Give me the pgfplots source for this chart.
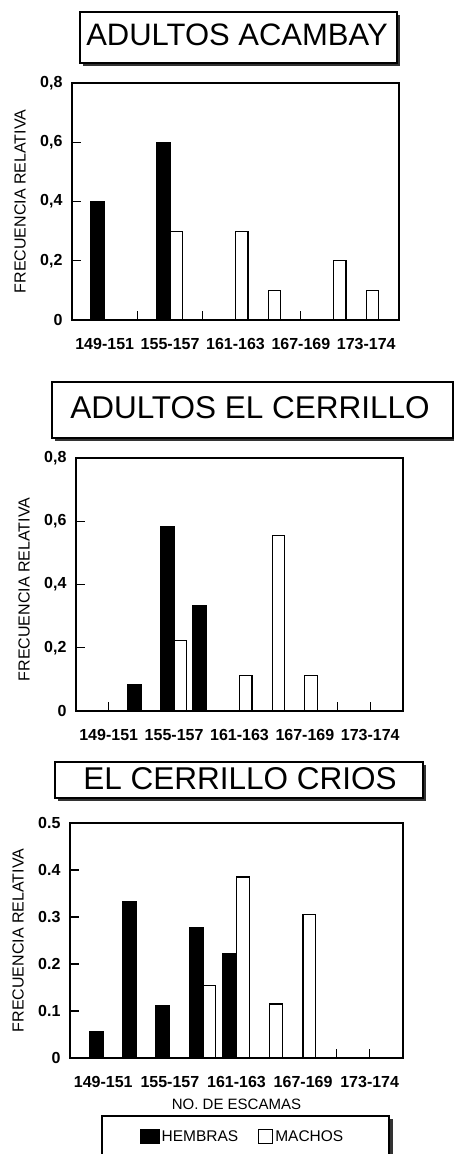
\documentclass[border=0pt]{standalone}
\usepackage{fontspec}
\setmainfont{Liberation Sans}
\usepackage{pgfplots}
\pgfplotsset{compat=1.18}
\begin{document}
\begin{tikzpicture}[x=1pt,y=1pt]
\useasboundingbox (0pt,0pt) rectangle (453pt,1154pt);
\pgfplotsset{
  panel/.style={
    scale only axis, anchor=south west,
    xmin=-1, xmax=9, ymin=0,
    axis line style={line width=1.3pt},
    xtick={0,1,2,3,4,5,6,7,8},
    xticklabels={149-151,,155-157,,161-163,,167-169,,173-174},
    xtick pos=lower, ytick pos=left,
    tick align=inside,
    major tick length=9pt,
    tick style={line width=1.1pt, black},
    ticklabel style={font=\fontsize{16}{16}\selectfont\bfseries},
    xticklabel style={yshift=-15pt},
    yticklabel style={xshift=-6pt},
    ylabel={FRECUENCIA RELATIVA},
    every axis y label/.style={at={(axis description cs:0,0.5)}, xshift=-52pt,
      rotate=90, anchor=center, font=\fontsize{16}{16}\selectfont},
    /pgf/number format/assume math mode=true,
  },
  hem/.style={ybar, bar width=0.42, bar shift=-0.21, fill=black, draw=black, line width=1.2pt},
  mac/.style={ybar, bar width=0.38, bar shift=0.19, fill=white, draw=black, line width=1.2pt},
}
% title boxes with shadow
\fill[black!80] (83pt,1088pt) rectangle (400pt,1139pt);
\draw[line width=1.2pt, fill=white] (80pt,1091pt) rectangle (397pt,1142pt);
\node[font=\fontsize{31}{31}\selectfont] at (237pt,1119pt) {ADULTOS ACAMBAY};

\fill[black!80] (55pt,713pt) rectangle (456pt,769pt);
\draw[line width=1.2pt, fill=white] (52pt,716pt) rectangle (453pt,772pt);
\node[font=\fontsize{31.5}{31.5}\selectfont] at (250pt,746pt) {ADULTOS EL CERRILLO};

\fill[black!80] (58pt,353pt) rectangle (426pt,389pt);
\draw[line width=1.2pt, fill=white] (55pt,356pt) rectangle (423pt,392pt);
\node[font=\fontsize{31.5}{31.5}\selectfont] at (240pt,375pt) {EL CERRILLO CRIOS};

% legend frame
\fill[black!80] (105pt,-10pt) rectangle (393pt,35pt);
\draw[line width=1.2pt, fill=white] (102pt,-7pt) rectangle (389pt,38pt);

% panel 1
\begin{axis}[panel, at={(72pt,834pt)}, width=327pt, height=237pt, ymax=0.8,
  ytick={0,0.2,0.4,0.6,0.8}, yticklabels={0,{0,2},{0,4},{0,6},{0,8}}]
\addplot[hem] coordinates {(0,0.4) (2,0.6)};
\addplot[mac] coordinates {(2,0.3) (4,0.3) (5,0.1) (7,0.2) (8,0.1)};
\end{axis}

% panel 2
\begin{axis}[panel, at={(76pt,443pt)}, width=327pt, height=253pt, ymax=0.8,
  ytick={0,0.2,0.4,0.6,0.8}, yticklabels={0,{0,2},{0,4},{0,6},{0,8}},
  every axis y label/.append style={xshift=-5pt}]
\addplot[hem] coordinates {(1,0.083) (2,0.583) (3,0.333)};
\addplot[mac] coordinates {(2,0.222) (4,0.111) (5,0.556) (6,0.111)};
\end{axis}

% panel 3
\begin{axis}[panel, at={(70pt,96pt)}, width=333pt, height=235pt, ymax=0.5,
  ytick={0,0.1,0.2,0.3,0.4,0.5}, yticklabels={0,0.1,0.2,0.3,0.4,0.5},
  xlabel={NO. DE ESCAMAS},
  xlabel style={font=\fontsize{15}{15}\selectfont, yshift=-4pt},
  legend columns=2,
  legend style={draw=none, fill=none, at={(rel axis cs:0.518,-0.336)}, anchor=center,
    font=\fontsize{15.5}{15.5}\selectfont,
    /tikz/every even column/.append style={column sep=18pt}},
  ]
\addplot[hem, legend image code/.code={\draw[fill=black, line width=1pt] (0pt,-7pt) rectangle (19pt,7pt);}]
  coordinates {(0,0.056) (1,0.333) (2,0.111) (3,0.278) (4,0.222)};
\addlegendentry{HEMBRAS}
\addplot[mac, legend image code/.code={\draw[fill=white, line width=1pt] (0pt,-7pt) rectangle (14pt,7pt);}]
  coordinates {(3,0.154) (4,0.385) (5,0.115) (6,0.305)};
\addlegendentry{MACHOS}
\end{axis}
\end{tikzpicture}
\end{document}
